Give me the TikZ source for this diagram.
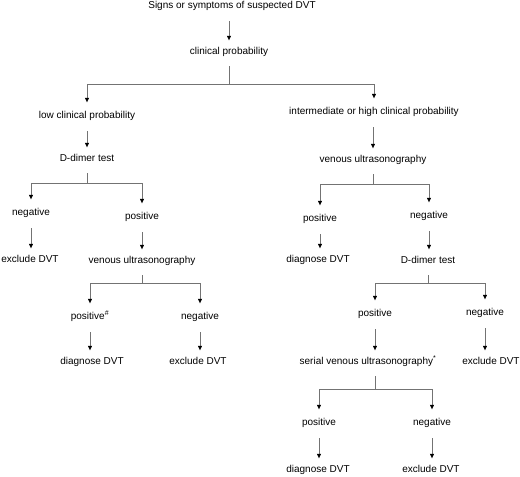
\documentclass[tikz,border=0pt]{standalone}
\usepackage{fontspec}
\setmainfont{Liberation Sans}
\usetikzlibrary{arrows.meta}

\begin{document}
\begin{tikzpicture}[x=1pt, y=-1pt,
  lbl/.style={inner sep=0pt, text height=7.5pt, text depth=2.5pt, font=\fontsize{10}{12}\selectfont},
  conn/.style={draw=black!55, line width=0.6pt},
  arr/.style={conn, -{Triangle[length=4.5pt, width=4pt, black]}, shorten <=10pt, shorten >=6.5pt},
  stem/.style={conn, shorten <=9pt},
  fork/.style={conn, -{Triangle[length=4.5pt, width=4pt, black]}, shorten >=8.5pt}]

\useasboundingbox (0,0) rectangle (520,477);

% Define the nodes
\node[lbl] (top) at (232,6) {Signs or symptoms of suspected DVT};
\node[lbl] (cp) at (229,52) {clinical probability};
\node[lbl] (lowp) at (87,116) {low clinical probability};
\node[lbl] (inter) at (374,112) {intermediate or high clinical probability};

\node[lbl] (dd1) at (87,159) {D-dimer test};
\node[lbl] (neg1) at (31,213) {negative};
\node[lbl] (pos1) at (142,217) {positive};
\node[lbl] (exc1) at (30,260) {exclude DVT};
\node[lbl] (vu1) at (142,261) {venous ultrasonography};
\node[lbl] (pos4) at (90,317) {positive\textsuperscript{\#}};
\node[lbl] (neg4) at (200,317) {negative};
\node[lbl] (diag4) at (92,362) {diagnose DVT};
\node[lbl] (exc4) at (198,362) {exclude DVT};

\node[lbl] (vu2) at (373,160) {venous ultrasonography};
\node[lbl] (pos2) at (320,219) {positive};
\node[lbl] (neg2) at (429,216) {negative};
\node[lbl] (diag2) at (318,260) {diagnose DVT};
\node[lbl] (dd2) at (428,261) {D-dimer test};
\node[lbl] (pos3) at (375,314) {positive};
\node[lbl] (neg3) at (485,313) {negative};
\node[lbl] (ser) at (368,362) {serial venous ultrasonography\textsuperscript{*}};
\node[lbl] (exc3) at (491,362) {exclude DVT};
\node[lbl] (pos5) at (319,423) {positive};
\node[lbl] (neg5) at (432,423) {negative};
\node[lbl] (diag5) at (318,470) {diagnose DVT};
\node[lbl] (exc5) at (431,470) {exclude DVT};

% Define the split points
\coordinate (s1) at (229,84);
\coordinate (s2) at (87,183);
\coordinate (s3) at (142,283);
\coordinate (s4) at (373,184);
\coordinate (s5) at (428,283);
\coordinate (s6) at (375,389);

% Draw the straight arrows
\draw[arr] (top.south -| cp.north) -- (cp.north);
\draw[arr] (lowp.south) -- (lowp.south |- dd1.north);
\draw[arr] (inter.south -| vu2.north) -- (vu2.north);
\draw[arr] (neg1.south) -- (neg1.south |- exc1.north);
\draw[arr] (pos1.south) -- (pos1.south |- vu1.north);
\draw[arr] (pos4.south) -- (pos4.south |- diag4.north);
\draw[arr] (neg4.south) -- (neg4.south |- exc4.north);
\draw[arr] (pos2.south) -- (pos2.south |- diag2.north);
\draw[arr] (neg2.south) -- (neg2.south |- dd2.north);
\draw[arr] (pos3.south) -- (pos3.south |- ser.north);
\draw[arr] (neg3.south) -- (neg3.south |- exc3.north);
\draw[arr] (pos5.south) -- (pos5.south |- diag5.north);
\draw[arr] (neg5.south) -- (neg5.south |- exc5.north);

% Draw the forks
\draw[stem] (cp.south) -- (s1);
\draw[fork] (s1) -| (lowp.north);
\draw[fork] (s1) -| (inter.north);

\draw[stem] (dd1.south) -- (s2);
\draw[fork] (s2) -| (neg1.north);
\draw[fork] (s2) -| (pos1.north);

\draw[stem] (vu1.south) -- (s3);
\draw[fork] (s3) -| (pos4.north);
\draw[fork] (s3) -| (neg4.north);

\draw[stem] (vu2.south) -- (s4);
\draw[fork] (s4) -| (pos2.north);
\draw[fork] (s4) -| (neg2.north);

\draw[stem] (dd2.south) -- (s5);
\draw[fork] (s5) -| (pos3.north);
\draw[fork] (s5) -| (neg3.north);

\draw[stem] (ser.south -| s6) -- (s6);
\draw[fork] (s6) -| (pos5.north);
\draw[fork] (s6) -| (neg5.north);

\end{tikzpicture}
\end{document}
